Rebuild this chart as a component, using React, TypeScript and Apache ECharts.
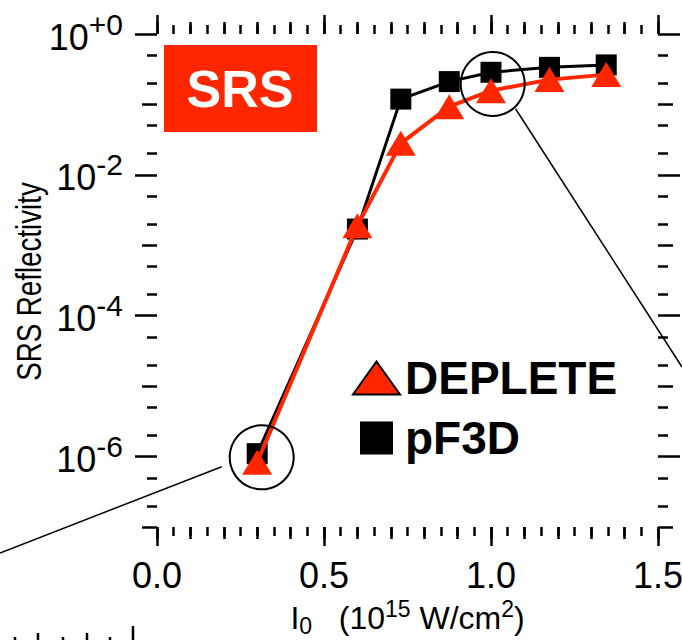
import React, { useEffect, useRef } from 'react';
import * as echarts from 'echarts';

// ---- data ----
const intensity = [0.3, 0.6, 0.73, 0.875, 1.0, 1.175, 1.345];
const depleteReflectivity = [8.3e-7, 1.9e-3, 0.028, 0.093, 0.157, 0.225, 0.265];
const pf3dReflectivity = [1.1e-6, 1.7e-3, 0.119, 0.211, 0.286, 0.336, 0.364];
const seriesNames = ['DEPLETE', 'pF3D'];

// ---- axis ticks ----
const xTickLabels = ['0.0', '0.5', '1.0', '1.5'];
const yMajorTicks = [1e-6, 1e-4, 1e-2, 1];
const yDecadeTicks = [1e-7, 1e-5, 1e-3, 1e-1];
const yMinorTicks = [
  2e-7, 5e-7, 2e-6, 5e-6, 2e-5, 5e-5, 2e-4, 5e-4, 2e-3, 5e-3, 2e-2, 5e-2, 2e-1, 5e-1,
];

const RED = '#ff2600';
const FONT = '"Liberation Sans", Arial, Helvetica, sans-serif';

function yAxisDef(position: string, ticks: number[], length: number, width: number, labels: boolean) {
  return {
    type: 'log',
    logBase: 10,
    min: 1e-7,
    max: 1,
    position,
    gridIndex: 0,
    axisLine: { show: false, onZero: false },
    axisTick: {
      show: true,
      inside: false,
      length,
      customValues: ticks,
      lineStyle: { color: '#000', width },
    },
    axisLabel: labels
      ? {
          show: true,
          customValues: ticks,
          margin: 34,
          formatter: (v: number) => {
            const e = Math.round(Math.log10(v));
            return `{b|10}{s|${e === 0 ? '+0' : String(e)}}`;
          },
          rich: {
            b: { fontSize: 36, fontFamily: FONT, color: '#000', padding: [6, 0, 0, 0] },
            s: { fontSize: 30, fontFamily: FONT, color: '#000', padding: [0, 0, 20, 0] },
          },
        }
      : { show: false },
    splitLine: { show: false },
    minorTick: { show: false },
    minorSplitLine: { show: false },
  };
}

function xAxisDef(position: string, interval: number, length: number, minor: boolean, labels: boolean, withName: boolean) {
  const def: any = {
    type: 'value',
    min: 0,
    max: 1.5,
    interval,
    position,
    gridIndex: 0,
    axisLine: { show: false, onZero: false },
    axisTick: { show: true, inside: false, length, lineStyle: { color: '#000', width: 2.5 } },
    minorTick: minor
      ? { show: true, splitNumber: 10, length: 9, lineStyle: { color: '#000', width: 2.5 } }
      : { show: false },
    splitLine: { show: false },
    minorSplitLine: { show: false },
    axisLabel: labels
      ? {
          show: true,
          margin: 30,
          fontSize: 36,
          fontFamily: FONT,
          color: '#000',
          formatter: (v: number) => xTickLabels[Math.round(v / 0.5)] ?? '',
        }
      : { show: false },
  };
  if (withName) {
    def.name = '{b|I}{sub|0}{b|   (10}{sup|15}{b| W/cm}{sup|2}{b|)}';
    def.nameLocation = 'middle';
    def.nameGap = 67;
    def.nameTextStyle = {
      rich: {
        b: { fontSize: 32, fontFamily: FONT, color: '#000' },
        sub: { fontSize: 23, fontFamily: FONT, color: '#000', padding: [16, 0, 0, 0] },
        sup: { fontSize: 23, fontFamily: FONT, color: '#000', padding: [0, 0, 18, 0] },
      },
    };
  }
  return def;
}

export default function App() {
  const ref = useRef<HTMLDivElement>(null);

  useEffect(() => {
    if (!ref.current) return;
    const chart = echarts.init(ref.current, undefined, { renderer: 'svg' });

    const option: any = {
      animation: false,
      backgroundColor: '#ffffff',
      textStyle: { fontFamily: FONT },
      grid: {
        left: 157,
        right: 24,
        top: 34,
        bottom: 113,
        containLabel: false,
        outerBoundsMode: 'none',
      },
      xAxis: [
        xAxisDef('bottom', 0.5, 19, true, true, true),
        xAxisDef('bottom', 0.1, 12, false, false, false),
        xAxisDef('top', 0.5, 19, true, false, false),
        xAxisDef('top', 0.1, 12, false, false, false),
      ],
      yAxis: [
        yAxisDef('left', yMajorTicks, 22, 2.5, true),
        yAxisDef('left', yDecadeTicks, 15, 2.5, false),
        yAxisDef('left', yMinorTicks, 10, 2.5, false),
        yAxisDef('right', yMajorTicks, 22, 2.5, false),
        yAxisDef('right', yDecadeTicks, 15, 2.5, false),
        yAxisDef('right', yMinorTicks, 10, 2.5, false),
      ],
      legend: {
        orient: 'vertical',
        left: 352,
        top: 353,
        padding: 0,
        itemWidth: 47,
        itemHeight: 33,
        itemGap: 10,
        selectedMode: false,
        textStyle: { fontSize: 46, fontWeight: 'bold', fontFamily: FONT, color: '#000', lineHeight: 50 },
        data: [
          { name: seriesNames[0], icon: 'triangle', itemStyle: { color: RED, borderColor: '#000', borderWidth: 2 } },
          { name: seriesNames[1], icon: 'path://M0 0H10V10H0Z', itemStyle: { color: '#000' } },
        ],
      },
      series: [
        {
          name: seriesNames[1],
          type: 'line',
          xAxisIndex: 0,
          yAxisIndex: 0,
          data: intensity.map((x, i) => [x, pf3dReflectivity[i]]),
          symbol: 'rect',
          symbolSize: 21,
          showAllSymbol: true,
          itemStyle: { color: '#000' },
          lineStyle: { color: '#000', width: 3 },
          z: 2,
        },
        {
          name: seriesNames[0],
          type: 'line',
          xAxisIndex: 0,
          yAxisIndex: 0,
          data: intensity.map((x, i) => [x, depleteReflectivity[i]]),
          symbol: 'triangle',
          symbolSize: [30, 25],
          showAllSymbol: true,
          itemStyle: { color: RED },
          lineStyle: { color: RED, width: 4 },
          z: 3,
        },
      ],
      graphic: [
        {
          type: 'rect',
          shape: { x: 164, y: 45, width: 153, height: 87 },
          style: { fill: RED },
          z: 10,
        },
        {
          type: 'text',
          x: 240,
          y: 89,
          z: 11,
          style: {
            text: 'SRS',
            fill: '#fff',
            font: `bold 52px ${FONT}`,
            align: 'center',
            verticalAlign: 'middle',
            textAlign: 'center',
            textVerticalAlign: 'middle',
          },
        },
        {
          type: 'text',
          x: 28.5,
          y: 281.5,
          rotation: Math.PI / 2,
          scaleX: 0.77,
          style: {
            text: 'SRS Reflectivity',
            fill: '#000',
            font: `36px ${FONT}`,
            align: 'center',
            verticalAlign: 'middle',
            textAlign: 'center',
            textVerticalAlign: 'middle',
          },
        },
        {
          type: 'circle',
          shape: { cx: 492.7, cy: 84, r: 32 },
          style: { fill: 'none', stroke: '#000', lineWidth: 2 },
          z: 10,
        },
        {
          type: 'circle',
          shape: { cx: 261.7, cy: 457.3, r: 32 },
          style: { fill: 'none', stroke: '#000', lineWidth: 2 },
          z: 10,
        },
        {
          type: 'line',
          shape: { x1: 515.7, y1: 109, x2: 682, y2: 367 },
          style: { stroke: '#000', lineWidth: 1.5 },
        },
        {
          type: 'line',
          shape: { x1: 221.7, y1: 466.7, x2: 0, y2: 553 },
          style: { stroke: '#000', lineWidth: 1.5 },
        },
        // partial tick marks of a neighbouring panel at the bottom edge
        { type: 'line', shape: { x1: 15, y1: 637, x2: 15, y2: 640 }, style: { stroke: '#000', lineWidth: 2.5 } },
        { type: 'line', shape: { x1: 38, y1: 633, x2: 38, y2: 640 }, style: { stroke: '#000', lineWidth: 2.5 } },
        { type: 'line', shape: { x1: 63, y1: 637, x2: 63, y2: 640 }, style: { stroke: '#000', lineWidth: 2.5 } },
        { type: 'line', shape: { x1: 87, y1: 633, x2: 87, y2: 640 }, style: { stroke: '#000', lineWidth: 2.5 } },
        { type: 'line', shape: { x1: 110, y1: 637, x2: 110, y2: 640 }, style: { stroke: '#000', lineWidth: 2.5 } },
        { type: 'line', shape: { x1: 133, y1: 626, x2: 133, y2: 640 }, style: { stroke: '#000', lineWidth: 2.5 } },
      ],
    };

    chart.setOption(option);
    return () => chart.dispose();
  }, []);

  return (
    <div
      ref={ref}
      style={{ position: 'fixed', left: 0, top: 0, width: 682, height: 640, background: '#fff' }}
    />
  );
}
